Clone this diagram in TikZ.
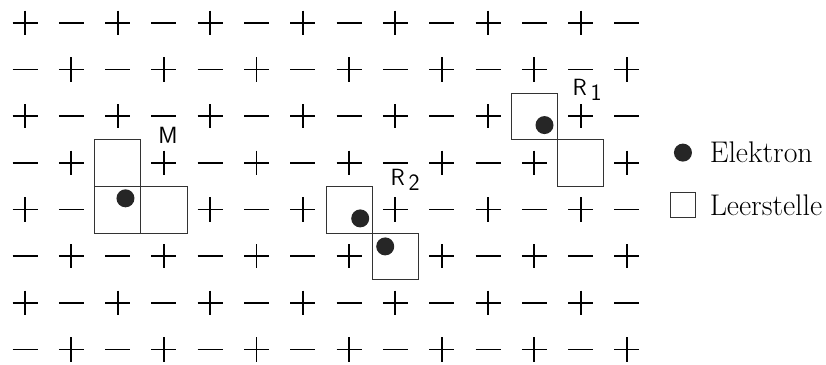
\documentclass[tikz,border=0pt]{standalone}
\begin{document}
\begin{tikzpicture}[x=1.389cm,y=-1.4cm,
    sign/.style={line width=1.6pt,line cap=butt},
    cell/.style={draw=black!80,line width=0.6pt},
    elektron/.style={fill=black!85},
    defekt/.style={font=\fontsize{20}{20}\sffamily},
    legende/.style={anchor=west,font=\fontsize{25.5}{25.5}\selectfont}]
  \useasboundingbox (-0.54,-0.49) rectangle (17.30,7.32);
  % Leerstellen (Spalte/Zeile)
  \foreach \p in {2/3,2/4,3/4,11/2,12/3,7/4,8/5}
    \expandafter\gdef\csname vac\p\endcsname{};
  % Ionengitter
  \foreach \c in {0,...,13}
    \foreach \r in {0,...,7}{
      \ifcsname vac\c/\r\endcsname\else
        \pgfmathparse{int(mod(\c+\r,2))}
        \ifnum\pgfmathresult=0
          \draw[sign] (\c-0.27,\r) -- (\c+0.27,\r) (\c,\r-0.26) -- (\c,\r+0.26);
        \else
          \draw[sign] (\c-0.27,\r) -- (\c+0.27,\r);
        \fi
      \fi
    }
  \foreach \c/\r in {2/3,2/4,3/4,11/2,12/3,7/4,8/5}
    \draw[cell] (\c-0.5,\r-0.5) rectangle (\c+0.5,\r+0.5);
  % Elektronen
  \fill[elektron] (2.17,3.76) circle (0.27cm);
  \fill[elektron] (11.22,2.19) circle (0.27cm);
  \fill[elektron] (7.24,4.19) circle (0.27cm);
  \fill[elektron] (7.78,4.79) circle (0.27cm);
  \node[defekt] (m) at (3.09,2.40) {M};
  \node[defekt] (r1) at (12.14,1.43) {R\,\raisebox{-0.45ex}{1}};
  \node[defekt] (r2) at (8.21,3.36) {R\,\raisebox{-0.45ex}{2}};
  % Legende
  \fill[elektron] (14.21,2.78) circle (0.27cm);
  \node[legende] (el) at (14.70,2.78) {Elektron};
  \draw[cell] (13.93,3.64) rectangle (14.47,4.16);
  \node[legende] (ls) at (14.70,3.90) {Leerstelle};
\end{tikzpicture}
\end{document}
